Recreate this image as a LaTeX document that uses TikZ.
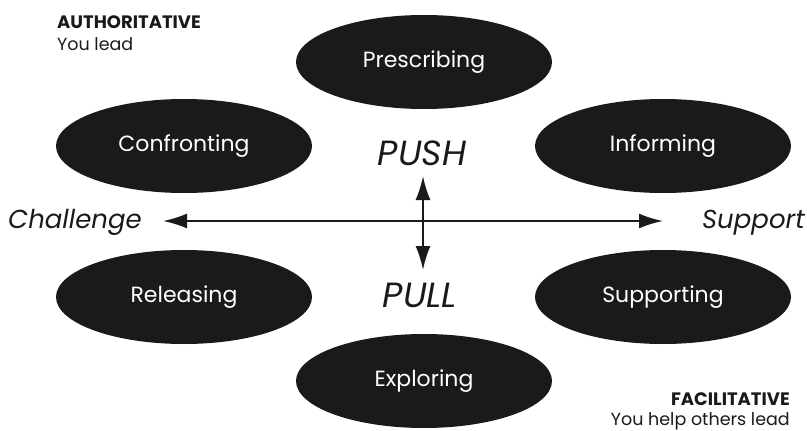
\documentclass[tikz,border=0pt]{standalone}
\usepackage{fontspec}
\setmainfont{Poppins}
\usetikzlibrary{shapes.geometric,arrows.meta}
\definecolor{ink}{HTML}{1A1A1A}

\begin{document}
\begin{tikzpicture}[
        % Environment Config
        x=1pt, y=-1pt,
        Mode/.style={% Style for the black ellipses
          ellipse,
          fill=ink,
          text=white,
          minimum width=256pt,
          minimum height=94pt,
          inner sep=0pt,
          font=\fontsize{22}{26}\selectfont
        },
        AxisText/.style={% Style for the axis words
          text=ink,
          inner sep=0pt,
          font=\fontsize{26}{30}\selectfont\itshape
        },
        Corner/.style={% Style for the corner notes
          text=ink,
          inner sep=0pt,
          font=\fontsize{17.5}{21}\selectfont
        },
        AxisArrow/.style={% Style for the double arrows
          {Latex[length=24pt,width=15pt]}-{Latex[length=24pt,width=15pt]},
          ink,
          line width=2pt
        }
      ]

      \useasboundingbox (0,0) rectangle (807,431);

      % Put the ellipses in position
      \node[Mode] (Prescribing) at (424,62)  {Prescribing};
      \node[Mode] (Confronting) at (184,146) {Confronting};
      \node[Mode] (Informing)   at (663,146) {Informing};
      \node[Mode] (Releasing)   at (184,297) {Releasing};
      \node[Mode] (Supporting)  at (663,297) {Supporting};
      \node[Mode] (Exploring)   at (424,381) {Exploring};

      % Axis words
      \node[AxisText, anchor=base west] (Challenge) at (8,228)   {Challenge};
      \node[AxisText, anchor=base east] (Support)   at (805,228) {Support};
      \node[AxisText, font=\fontsize{35}{40}\selectfont\itshape, anchor=base] (Push) at (422,165) {PUSH};
      \node[AxisText, font=\fontsize{35}{40}\selectfont\itshape, anchor=base] (Pull) at (420,307) {PULL};

      % Corner notes
      \node[Corner, anchor=base west, font=\fontsize{18}{21}\selectfont\bfseries] (Authoritative) at (57,28) {AUTHORITATIVE};
      \node[Corner, anchor=base west] (YouLead) at (57,50) {You lead};
      \node[Corner, anchor=base east, font=\fontsize{18}{21}\selectfont\bfseries] (Facilitative) at (790,405) {FACILITATIVE};
      \node[Corner, anchor=base east] (YouHelp) at (790,425) {You help others lead};

      % Arrow ends
      \coordinate (W) at (163,221);
      \coordinate (E) at (663,221);
      \coordinate (N) at (423,176);
      \coordinate (S) at (423,270);

      % Draw the axes
      \draw[AxisArrow] (W) -- (E);
      \draw[AxisArrow] (N) -- (S);

      \end{tikzpicture}
\end{document}
